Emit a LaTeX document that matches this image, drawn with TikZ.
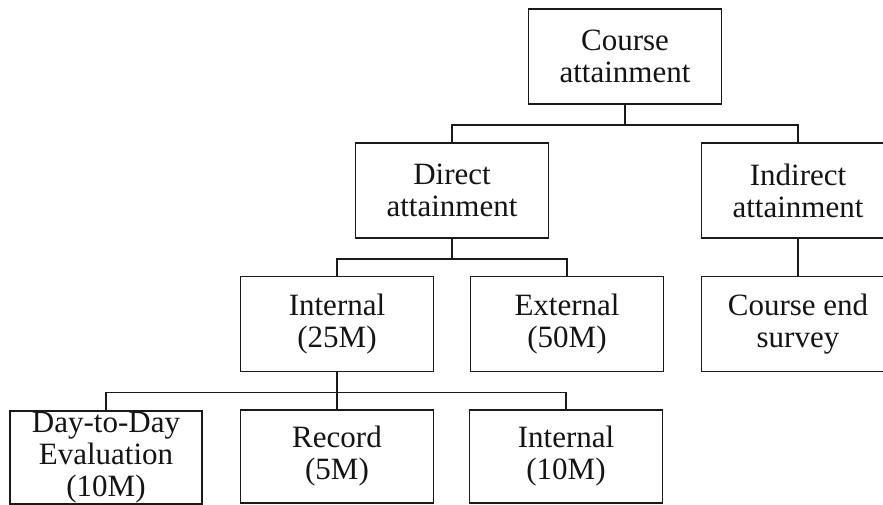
\documentclass[tikz,border=0pt]{standalone}
\usepackage{fontspec}
\setmainfont{Liberation Serif}
\usepackage{tikz}
\usetikzlibrary{positioning}
\definecolor{LineBlack}{HTML}{1A1A1A}
\definecolor{TextBlack}{HTML}{141414}
\tikzset{
  levelbox/.style={draw=LineBlack,line width=1.8pt,fill=white,minimum width=193pt,minimum height=95pt,inner sep=0pt,align=center,font=\fontsize{31}{32}\selectfont,text=TextBlack},
  link/.style={draw=LineBlack,line width=1.8pt}
}

\begin{document}
\begin{tikzpicture}[x=1pt,y=-1pt]
\useasboundingbox (0,0) rectangle (883,504);
\clip (0,0) rectangle (883,504);
\fill[white] (0,0) rectangle (883,504);
% top level
\node[levelbox] (course) at (625,56.5) {Course\\attainment};
% second level
\node[levelbox] (direct) at (452,190.5) {Direct\\attainment};
\node[levelbox] (indirect) at (798,190.5) {Indirect\\attainment};
% third level
\node[levelbox] (intern) at (337,324) {Internal\\(25M)};
\node[levelbox] (extern) at (567,324) {External\\(50M)};
\node[levelbox] (survey) at (798,324) {Course end\\survey};
% bottom level
\node[levelbox,minimum width=192pt,minimum height=93pt] (daily) at (106,457.5) {Day-to-Day\\Evaluation\\(10M)};
\node[levelbox,minimum height=93pt] (record) at (337,456.5) {Record\\(5M)};
\node[levelbox,minimum height=93pt] (internb) at (566,456.5) {Internal\\(10M)};
% connectors
\draw[link] (course.south) -- ++(0,20) -| (direct.north);
\draw[link] (course.south) -- ++(0,20) -| (indirect.north);
\draw[link] (direct.south) -- ++(0,20) -| (intern.north);
\draw[link] (direct.south) -- ++(0,20) -| (extern.north);
\draw[link] (indirect.south) -- (survey.north);
\draw[link] (intern.south) -- ++(0,20) -| (daily.north);
\draw[link] (intern.south) -- ++(0,20) -| (record.north);
\draw[link] (intern.south) -- ++(0,20) -| (internb.north);
\end{tikzpicture}
\end{document}
